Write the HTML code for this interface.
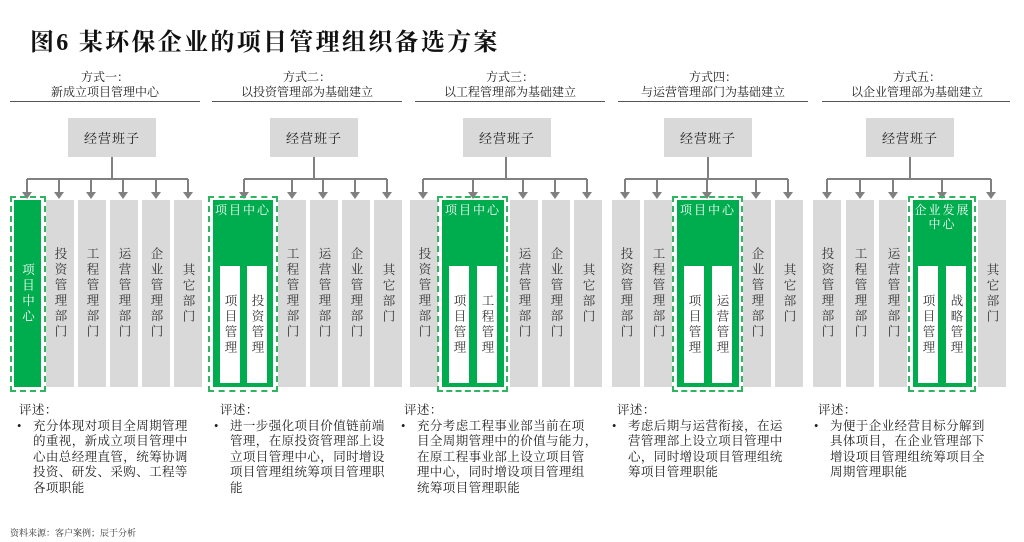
<!DOCTYPE html>
<html><head><meta charset="utf-8">
<style>
*{margin:0;padding:0;box-sizing:border-box}
body{width:1024px;height:542px;background:#fff;position:relative;overflow:hidden;font-family:"Liberation Serif","Noto Serif CJK SC",serif;color:#222}
.a{position:absolute}
.t{left:30px;top:22px;font-size:24px;font-weight:bold;letter-spacing:2.3px;color:#111}
.h{text-align:center;font-size:12px;line-height:15px;color:#222}
.ul{height:1px;background:#555;top:101px}
.box{background:#d9d9d9;top:118px;height:39px;width:88px;font-size:13px;display:flex;align-items:center;justify-content:center;letter-spacing:1px}
.col{background:#d9d9d9;top:200px;height:187px;width:28px;display:flex;align-items:center;justify-content:center}
.v{writing-mode:vertical-rl;text-orientation:upright;font-size:12.5px;letter-spacing:3px;color:#333}
.g{background:#00ad4e;top:200px;height:187px}
.d{border:2px dashed #2fb560;top:196px;height:196px}
.gt{color:#fff;font-size:12px;text-align:center;letter-spacing:2px;line-height:14px;width:100%;top:3px;left:0}
.w{background:#fff;top:266px;height:117px;width:20px;display:flex;align-items:center;justify-content:center}
.n{font-size:12.5px;line-height:15.6px;top:403px;letter-spacing:0.4px}
.n p{padding-left:16px;position:relative}
.n .b::before{content:"•";position:absolute;left:0}
</style></head><body>
<div class="a t">图6 某环保企业的项目管理组织备选方案</div>

<div class="a h" style="left:10px;width:190px;top:70px">方式一：<br>新成立项目管理中心</div>
<div class="a h" style="left:212px;width:190px;top:70px">方式二：<br>以投资管理部为基础建立</div>
<div class="a h" style="left:415px;width:190px;top:70px">方式三：<br>以工程管理部为基础建立</div>
<div class="a h" style="left:618px;width:190px;top:70px">方式四：<br>与运营管理部门为基础建立</div>
<div class="a h" style="left:822px;width:190px;top:70px">方式五：<br>以企业管理部为基础建立</div>
<div class="a ul" style="left:10px;width:190px"></div>
<div class="a ul" style="left:212px;width:190px"></div>
<div class="a ul" style="left:415px;width:190px"></div>
<div class="a ul" style="left:618px;width:190px"></div>
<div class="a ul" style="left:822px;width:188px"></div>

<div class="a box" style="left:68px">经营班子</div>
<div class="a box" style="left:270px">经营班子</div>
<div class="a box" style="left:463px">经营班子</div>
<div class="a box" style="left:664px">经营班子</div>
<div class="a box" style="left:866px">经营班子</div>

<svg class="a" style="left:0;top:0" width="1024" height="542">
<g stroke="#808080" stroke-width="2" fill="none">
<path d="M112 157V179M27 179H188M27 179V194M59 179V194M91 179V194M123 179V194M156 179V194M188 179V194"/>
<path d="M314 157V179M244 179H387M244 179V194M292 179V194M323 179V194M355 179V194M387 179V194"/>
<path d="M506 157V179M423 179H587M423 179V194M473 179V194M523 179V194M555 179V194M587 179V194"/>
<path d="M708 157V179M625 179H788M625 179V194M657 179V194M707 179V194M756 179V194M788 179V194"/>
<path d="M910 157V179M827 179H991M827 179V194M860 179V194M893 179V194M942 179V194M991 179V194"/>
</g>
<g fill="#808080">
<path d="M22 192h10l-5 7z M54 192h10l-5 7z M86 192h10l-5 7z M118 192h10l-5 7z M151 192h10l-5 7z M183 192h10l-5 7z"/>
<path d="M239 192h10l-5 7z M287 192h10l-5 7z M318 192h10l-5 7z M350 192h10l-5 7z M382 192h10l-5 7z"/>
<path d="M418 192h10l-5 7z M468 192h10l-5 7z M518 192h10l-5 7z M550 192h10l-5 7z M582 192h10l-5 7z"/>
<path d="M620 192h10l-5 7z M652 192h10l-5 7z M702 192h10l-5 7z M751 192h10l-5 7z M783 192h10l-5 7z"/>
<path d="M822 192h10l-5 7z M855 192h10l-5 7z M888 192h10l-5 7z M937 192h10l-5 7z M986 192h10l-5 7z"/>
</g>
</svg>

<!-- Panel 1 -->
<div class="a d" style="left:10px;width:36px"></div>
<div class="a g" style="left:14px;width:27px;display:flex;align-items:center;justify-content:center"><span class="v" style="color:#fff">项目中心</span></div>
<div class="a col" style="left:46px"><span class="v">投资管理部门</span></div>
<div class="a col" style="left:78px"><span class="v">工程管理部门</span></div>
<div class="a col" style="left:110px"><span class="v">运营管理部门</span></div>
<div class="a col" style="left:142px"><span class="v">企业管理部门</span></div>
<div class="a col" style="left:174px"><span class="v">其它部门</span></div>

<!-- Panel 2 -->
<div class="a d" style="left:208px;width:70px"></div>
<div class="a g" style="left:213px;width:60px"><div class="a gt">项目中心</div></div>
<div class="a w" style="left:220px"><span class="v">项目管理</span></div>
<div class="a w" style="left:247px"><span class="v">投资管理</span></div>
<div class="a col" style="left:278px"><span class="v">工程管理部门</span></div>
<div class="a col" style="left:310px"><span class="v">运营管理部门</span></div>
<div class="a col" style="left:342px"><span class="v">企业管理部门</span></div>
<div class="a col" style="left:374px"><span class="v">其它部门</span></div>

<!-- Panel 3 -->
<div class="a col" style="left:410px"><span class="v">投资管理部门</span></div>
<div class="a d" style="left:437px;width:71px"></div>
<div class="a g" style="left:442px;width:62px"><div class="a gt">项目中心</div></div>
<div class="a w" style="left:449px"><span class="v">项目管理</span></div>
<div class="a w" style="left:477px"><span class="v">工程管理</span></div>
<div class="a col" style="left:510px"><span class="v">运营管理部门</span></div>
<div class="a col" style="left:542px"><span class="v">企业管理部门</span></div>
<div class="a col" style="left:574px"><span class="v">其它部门</span></div>

<!-- Panel 4 -->
<div class="a col" style="left:612px"><span class="v">投资管理部门</span></div>
<div class="a col" style="left:644px"><span class="v">工程管理部门</span></div>
<div class="a d" style="left:672px;width:71px"></div>
<div class="a g" style="left:677px;width:62px"><div class="a gt">项目中心</div></div>
<div class="a w" style="left:684px"><span class="v">项目管理</span></div>
<div class="a w" style="left:712px"><span class="v">运营管理</span></div>
<div class="a col" style="left:743px"><span class="v">企业管理部门</span></div>
<div class="a col" style="left:775px"><span class="v">其它部门</span></div>

<!-- Panel 5 -->
<div class="a col" style="left:813px"><span class="v">投资管理部门</span></div>
<div class="a col" style="left:846px"><span class="v">工程管理部门</span></div>
<div class="a col" style="left:879px"><span class="v">运营管理部门</span></div>
<div class="a d" style="left:908px;width:68px"></div>
<div class="a g" style="left:913px;width:59px"><div class="a gt">企业发展<br>中心</div></div>
<div class="a w" style="left:918px"><span class="v">项目管理</span></div>
<div class="a w" style="left:946px"><span class="v">战略管理</span></div>
<div class="a col" style="left:978px"><span class="v">其它部门</span></div>

<!-- Notes -->
<div class="a n" style="left:17px;width:195px"><div style="margin-left:2px">评述：</div><p class="b">充分体现对项目全周期管理<br>的重视，新成立项目管理中<br>心由总经理直管，统筹协调<br>投资、研发、采购、工程等<br>各项职能</p></div>
<div class="a n" style="left:214px;width:200px"><div style="margin-left:6px">评述：</div><p class="b">进一步强化项目价值链前端<br>管理，在原投资管理部上设<br>立项目管理中心，同时增设<br>项目管理组统筹项目管理职<br>能</p></div>
<div class="a n" style="left:401px;width:210px"><div style="margin-left:3px">评述：</div><p class="b">充分考虑工程事业部当前在项<br>目全周期管理中的价值与能力，<br>在原工程事业部上设立项目管<br>理中心，同时增设项目管理组<br>统筹项目管理职能</p></div>
<div class="a n" style="left:612px;width:205px"><div style="margin-left:5px">评述：</div><p class="b">考虑后期与运营衔接，在运<br>营管理部上设立项目管理中<br>心，同时增设项目管理组统<br>筹项目管理职能</p></div>
<div class="a n" style="left:814px;width:205px"><div style="margin-left:4px">评述：</div><p class="b">为便于企业经营目标分解到<br>具体项目，在企业管理部下<br>增设项目管理组统筹项目全<br>周期管理职能</p></div>

<div class="a" style="left:10px;top:526px;font-size:9px;color:#333">资料来源：客户案例；辰于分析</div>
</body></html>
